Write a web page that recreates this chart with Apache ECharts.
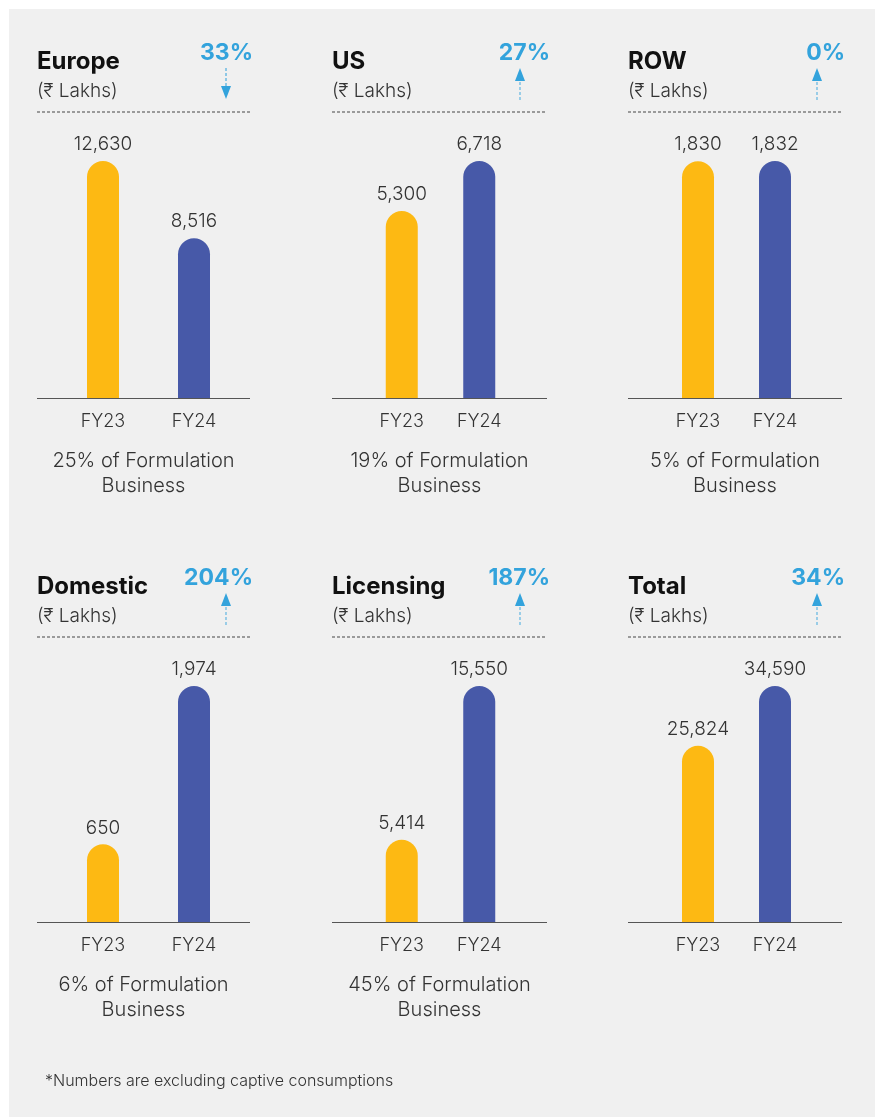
<!DOCTYPE html>
<html>
<head>
<meta charset="utf-8">
<script src="https://cdn.jsdelivr.net/npm/echarts@6/dist/echarts.min.js"></script>
<style>
  html, body { margin: 0; padding: 0; background: #ffffff; }
  #chart { width: 875px; height: 1117px; }
</style>
</head>
<body>
<div id="chart"></div>
<script>
// data
const regions = ['Europe', 'US', 'ROW', 'Domestic', 'Licensing', 'Total'];
const years = ['FY23', 'FY24'];
const fy23 = [12630, 5300, 1830, 650, 5414, 25824];
const fy24 = [8516, 6718, 1832, 1974, 15550, 34590];
const growth = ['33%', '27%', '0%', '204%', '187%', '34%'];
const trend = ['down', 'up', 'up', 'up', 'up', 'up'];
const shares = ['25%', '19%', '5%', '6%', '45%', ''];
const unitText = '(₹ Lakhs)';
const footnote = '*Numbers are excluding captive consumptions';

const ORANGE = '#FDB913';
const BLUE = '#4759A8';
const CYAN = '#33A3DC';
const FONT = 'Inter, "Noto Sans", sans-serif';

// panel geometry
const cols = [
  { x0: 37, x1: 250, gl: 57.5, gw: 182, arrow: 226 },
  { x0: 332, x1: 547, gl: 363, gw: 155, arrow: 520 },
  { x0: 628, x1: 842, gl: 659.5, gw: 154, arrow: 817 }
];
const rows = [
  { off: 0, top: 161, base: 398 },
  { off: 525, top: 686, base: 922 }
];

const chart = echarts.init(document.getElementById('chart'));

const grid = [], xAxis = [], yAxis = [], series = [];
const graphic = [{
  type: 'rect', z: -10, silent: true,
  shape: { x: 9, y: 9, width: 866, height: 1108 },
  style: { fill: '#F0F0F0' }
}];

regions.forEach((name, i) => {
  const c = cols[i % 3];
  const r = rows[Math.floor(i / 3)];
  grid.push({
    left: c.gl, width: c.gw,
    top: r.top, height: r.base - r.top
  });
  xAxis.push({
    type: 'category', gridIndex: i, data: years,
    axisLine: { show: false }, axisTick: { show: false },
    axisLabel: { fontSize: 18, color: '#333', margin: 15, fontFamily: FONT, fontWeight: 300 }
  });
  yAxis.push({ type: 'value', gridIndex: i, min: 0, max: 'dataMax', show: false, splitLine: { show: false } });
  series.push({
    type: 'bar', name: name, xAxisIndex: i, yAxisIndex: i,
    data: [fy23[i], fy24[i]],
    barWidth: 32,
    itemStyle: {
      borderRadius: [16, 16, 0, 0],
      color: p => (p.dataIndex === 0 ? ORANGE : BLUE)
    },
    label: {
      show: true, position: 'top', distance: 7,
      fontSize: 19, color: '#333', fontFamily: FONT, fontWeight: 300,
      formatter: p => p.value.toLocaleString('en-US')
    }
  });

  const o = r.off;
  // title + unit
  graphic.push({
    type: 'text', left: c.x0, top: 50 + o,
    style: { text: name, font: 'bold 24px ' + FONT, fill: '#111' }
  });
  graphic.push({
    type: 'text', left: c.x0, top: 82 + o,
    style: { text: unitText, font: '300 19px ' + FONT, fill: '#333' }
  });
  // dashed separator
  graphic.push({
    type: 'line', silent: true,
    shape: { x1: c.x0, y1: 112 + o, x2: c.x1, y2: 112 + o },
    style: { stroke: '#444', lineWidth: 1, lineDash: [3, 2] }
  });
  // baseline
  graphic.push({
    type: 'line', silent: true,
    shape: { x1: c.x0, y1: r.base + 0.5, x2: c.x1, y2: r.base + 0.5 },
    style: { stroke: '#555', lineWidth: 1 }
  });
  // growth %
  graphic.push({
    type: 'text', x: c.x1 + 3, y: 53 + o,
    style: { text: growth[i], font: 'bold 23px ' + FONT, fill: CYAN, align: 'right', verticalAlign: 'middle' }
  });
  // arrow
  const ax = c.arrow;
  if (trend[i] === 'down') {
    graphic.push({
      type: 'line', silent: true,
      shape: { x1: ax, y1: 68 + o, x2: ax, y2: 88 + o },
      style: { stroke: CYAN, lineWidth: 1.3, lineDash: [3, 2], opacity: 0.8 }
    });
    graphic.push({
      type: 'polygon', silent: true,
      shape: { points: [[ax - 5, 86 + o], [ax + 5, 86 + o], [ax, 99 + o]] },
      style: { fill: CYAN }
    });
  } else {
    graphic.push({
      type: 'polygon', silent: true,
      shape: { points: [[ax - 5, 81 + o], [ax + 5, 81 + o], [ax, 68 + o]] },
      style: { fill: CYAN }
    });
    graphic.push({
      type: 'line', silent: true,
      shape: { x1: ax, y1: 82 + o, x2: ax, y2: 100 + o },
      style: { stroke: CYAN, lineWidth: 1.3, lineDash: [3, 2], opacity: 0.7 }
    });
  }
  // share of formulation
  if (shares[i]) {
    graphic.push({
      type: 'text', x: (c.x0 + c.x1) / 2, y: r.base + 75.5,
      style: {
        text: shares[i] + ' of Formulation\nBusiness',
        font: '300 20px ' + FONT, fill: '#333',
        align: 'center', verticalAlign: 'middle', lineHeight: 25
      }
    });
  }
});

graphic.push({
  type: 'text', left: 45, top: 1073,
  style: { text: footnote, font: '300 16px ' + FONT, fill: '#333' }
});

chart.setOption({
  backgroundColor: '#ffffff',
  animation: false,
  grid, xAxis, yAxis, series, graphic
});
</script>
</body>
</html>
